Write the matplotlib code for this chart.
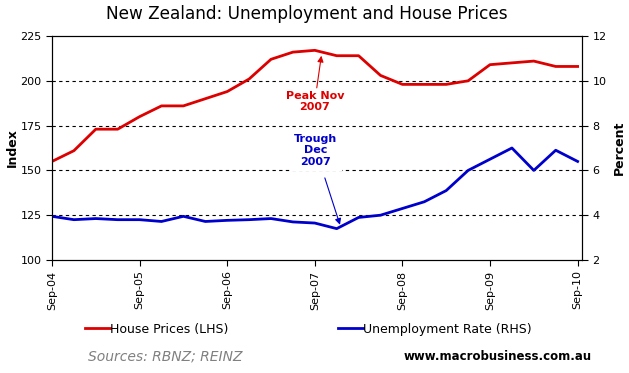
import numpy as np
import matplotlib
matplotlib.use('Agg')
import matplotlib.pyplot as plt

# quarterly data, Sep-04 .. Sep-10
quarters = ['Sep-04', 'Dec-04', 'Mar-05', 'Jun-05', 'Sep-05', 'Dec-05', 'Mar-06',
            'Jun-06', 'Sep-06', 'Dec-06', 'Mar-07', 'Jun-07', 'Sep-07', 'Dec-07',
            'Mar-08', 'Jun-08', 'Sep-08', 'Dec-08', 'Mar-09', 'Jun-09', 'Sep-09',
            'Dec-09', 'Mar-10', 'Jun-10', 'Sep-10']
house_prices = [155, 161, 173, 173, 180, 186, 186, 190, 194, 201, 212, 216, 217,
                214, 214, 203, 198, 198, 198, 200, 209, 210, 211, 208, 208]
unemployment = [3.95, 3.8, 3.85, 3.8, 3.8, 3.72, 3.95, 3.72, 3.77, 3.8, 3.85, 3.7,
                3.65, 3.4, 3.9, 4.0, 4.3, 4.6, 5.1, 6.0, 6.5, 7.0, 6.0, 6.9, 6.4]
tick_labels = ['Sep-04', 'Sep-05', 'Sep-06', 'Sep-07', 'Sep-08', 'Sep-09', 'Sep-10']

RED = '#dd0000'
BLUE = '#0000cc'

fig = plt.figure(figsize=(6.29, 3.73), dpi=100)
ax = fig.add_axes([52 / 629, 1 - 260 / 373, 530 / 629, 224 / 373])
ax2 = ax.twinx()

x = np.arange(len(quarters))
l1, = ax.plot(x, house_prices, color=RED, lw=2.0, label='House Prices (LHS)')
l2, = ax2.plot(x, unemployment, color=BLUE, lw=2.0, label='Unemployment Rate (RHS)')

ax.set_xlim(0, 24.2)
ax.set_ylim(100, 225)
ax2.set_ylim(2, 12)
ax.set_yticks([100, 125, 150, 175, 200, 225])
ax2.set_yticks([2, 4, 6, 8, 10, 12])
tick_pos = [quarters.index(t) for t in tick_labels]
ax.set_xticks(tick_pos)
ax.set_xticklabels(tick_labels, rotation=90, fontsize=8)

for y in [125, 150, 175, 200]:
    ax.axhline(y, color='black', lw=0.8, ls=(0, (3, 3)), zorder=0)

for a in (ax, ax2):
    a.tick_params(axis='both', labelsize=8, length=4, width=0.8, color='black')
    for s in a.spines.values():
        s.set_linewidth(0.8)

# axis titles placed by hand so the right one is not cut off
fig.text(12 / 629, 1 - 148 / 373, 'Index', rotation=90, ha='center', va='center',
         fontsize=9, fontweight='bold')
fig.text(619 / 629, 1 - 148 / 373, 'Percent', rotation=90, ha='center', va='center',
         fontsize=9, fontweight='bold')

fig.text(0.487, 1 - 14 / 373, 'New Zealand: Unemployment and House Prices',
         ha='center', va='center', fontsize=12.2)

# annotations
ax.annotate('Peak Nov\n2007', xy=(12.3, 214), xytext=(12.0, 188.5),
            ha='center', va='center', color=RED, fontsize=8, fontweight='bold',
            arrowprops=dict(arrowstyle='-|>', color=RED, lw=0.8, mutation_scale=9,
                            shrinkA=0, shrinkB=0))
ax2.annotate('Trough\nDec\n2007', xy=(13.15, 3.57), xytext=(12.05, 6.9),
             ha='center', va='center', color=BLUE, fontsize=8, fontweight='bold',
             bbox=dict(boxstyle='square,pad=0.4', fc='white', ec='none'),
             arrowprops=dict(arrowstyle='-|>', color=BLUE, lw=0.8, mutation_scale=9,
                             shrinkA=5, shrinkB=0))

fig.legend(handles=[l1, l2], loc='center', bbox_to_anchor=(308 / 629, 1 - 329 / 373),
           ncol=2, frameon=False, fontsize=9, handlelength=2.0, handletextpad=0.0,
           columnspacing=8.8)

fig.text(165 / 629, 1 - 357 / 373, 'Sources: RBNZ; REINZ', ha='center', va='center',
         fontsize=10, style='italic', color='#808080')
fig.text(498 / 629, 1 - 357 / 373, 'www.macrobusiness.com.au', ha='center', va='center',
         fontsize=8.5, fontweight='bold', color='black')

fig.savefig('out.png', dpi=100)
